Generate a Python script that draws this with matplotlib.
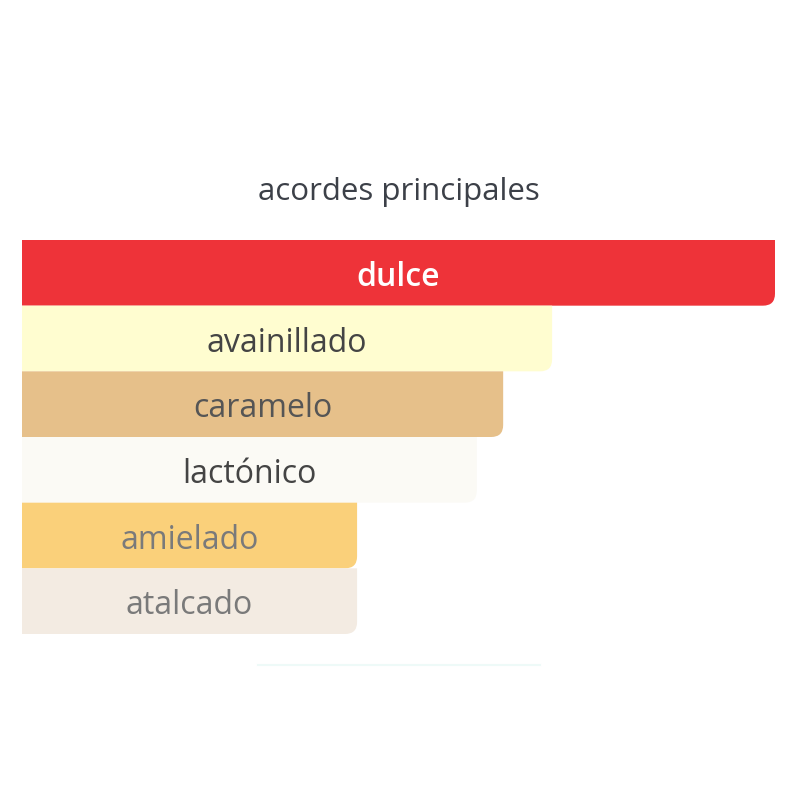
import matplotlib
matplotlib.use("Agg")
import matplotlib.pyplot as plt
from matplotlib.path import Path
from matplotlib.patches import PathPatch
from matplotlib.lines import Line2D

# acordes principales (porcentaje relativo)
acordes = ["dulce", "avainillado", "caramelo", "lactónico", "amielado", "atalcado"]
valores = [100, 70.4, 63.9, 60.4, 44.5, 44.5]
colores = ["#ee3339", "#fffdd0", "#e6c08a", "#fbfaf5", "#fad07a", "#f3ebe2"]
colores_texto = ["#ffffff", "#444444", "#555555", "#444444", "#7a7a7a", "#7a7a7a"]

plt.rcParams['font.family'] = ['Open Sans', 'DejaVu Sans']

fig = plt.figure(figsize=(8, 8), dpi=100)
ax = fig.add_axes([22 / 800, 1 - 634 / 800, 753 / 800, 394 / 800])
ax.set_xlim(0, 100)
ax.set_ylim(len(acordes), 0)
ax.axis("off")

# radio de la esquina en pixeles -> unidades de datos
rx = 12 / 7.53
ry = 12 / (394 / len(acordes))

def barra(y0, w, h=1.0):
    # solo la esquina inferior derecha redondeada
    y1 = y0 + h
    verts = [(0, y0), (w, y0), (w, y1 - ry), (w, y1), (w - rx, y1), (0, y1), (0, y0)]
    codes = [Path.MOVETO, Path.LINETO, Path.LINETO, Path.CURVE3, Path.CURVE3,
             Path.LINETO, Path.CLOSEPOLY]
    return Path(verts, codes)

for i, (nombre, v) in enumerate(zip(acordes, valores)):
    ax.add_patch(PathPatch(barra(i, v), facecolor=colores[i], edgecolor="none"))
    ax.text(v / 2, i + 0.57, nombre, ha="center", va="center", fontsize=23,
            color=colores_texto[i], weight="semibold" if i == 0 else "normal")

fig.text(399 / 800, 1 - 192 / 800, "acordes principales", ha="center", va="center",
         fontsize=22.5, color="#3c4048")

fig.add_artist(Line2D([258 / 800, 540 / 800], [1 - 665 / 800] * 2,
                      color="#eefaf8", lw=1.5, transform=fig.transFigure))

fig.savefig("out.png", dpi=100, facecolor="white")
